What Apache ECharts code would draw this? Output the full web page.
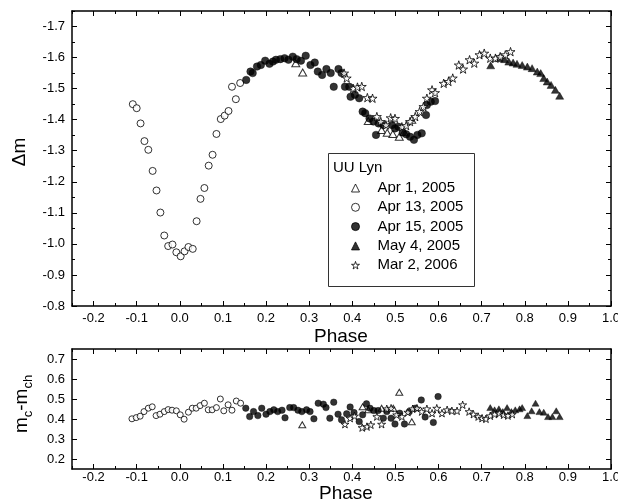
<!DOCTYPE html>
<html>
<head>
<meta charset="utf-8">
<style>
  html, body { margin: 0; padding: 0; background: #fff; }
  #chart { width: 618px; height: 503px; }
</style>
<script src="https://cdn.jsdelivr.net/npm/echarts@6/dist/echarts.min.js"></script>
</head>
<body>
<div id="chart"></div>
<script>
// tick positions
const phaseTicks = [-0.2, -0.1, 0, 0.1, 0.2, 0.3, 0.4, 0.5, 0.6, 0.7, 0.8, 0.9, 1.0];
const phaseMinorTicks = [-0.25, -0.15, -0.05, 0.05, 0.15, 0.25, 0.35, 0.45, 0.55, 0.65, 0.75, 0.85, 0.95];
const dmTicks = [-1.7, -1.6, -1.5, -1.4, -1.3, -1.2, -1.1, -1.0, -0.9, -0.8];
const dmMinorTicks = [-1.75, -1.65, -1.55, -1.45, -1.35, -1.25, -1.15, -1.05, -0.95, -0.85];
const diffTicks = [0.2, 0.3, 0.4, 0.5, 0.6, 0.7];

const seriesNames = ['Apr 1, 2005', 'Apr 13, 2005', 'Apr 15, 2005', 'May 4, 2005', 'Mar 2, 2006'];

// light curve: [phase, delta m]
const apr1Dm = [[0.269, -1.582], [0.285, -1.552], [0.437, -1.396], [0.468, -1.367], [0.481, -1.358],
  [0.494, -1.354], [0.509, -1.345], [0.520, -1.360], [0.538, -1.400]];
const apr13Dm = [[-0.109, -1.450], [-0.100, -1.437], [-0.091, -1.388], [-0.082, -1.331], [-0.073, -1.303],
  [-0.063, -1.235], [-0.054, -1.172], [-0.045, -1.101], [-0.036, -1.027], [-0.027, -0.993],
  [-0.017, -0.998], [-0.008, -0.973], [0.002, -0.960], [0.011, -0.976], [0.020, -0.990],
  [0.030, -0.984], [0.039, -1.073], [0.048, -1.145], [0.057, -1.180], [0.067, -1.252],
  [0.076, -1.287], [0.085, -1.354], [0.095, -1.402], [0.104, -1.413], [0.113, -1.428],
  [0.121, -1.506], [0.130, -1.466], [0.140, -1.518]];
const apr15Dm = [[0.154, -1.528], [0.164, -1.555], [0.169, -1.550], [0.179, -1.571], [0.188, -1.576],
  [0.198, -1.590], [0.208, -1.580], [0.216, -1.587], [0.223, -1.593], [0.233, -1.595],
  [0.243, -1.598], [0.252, -1.593], [0.262, -1.603], [0.271, -1.595], [0.281, -1.590],
  [0.292, -1.606], [0.303, -1.576], [0.313, -1.584], [0.320, -1.555], [0.330, -1.544],
  [0.340, -1.563], [0.350, -1.550], [0.357, -1.506], [0.368, -1.563], [0.375, -1.550],
  [0.383, -1.506], [0.393, -1.506], [0.396, -1.474], [0.406, -1.480], [0.416, -1.469],
  [0.424, -1.426], [0.430, -1.421], [0.440, -1.404], [0.449, -1.394], [0.455, -1.351],
  [0.461, -1.388], [0.472, -1.383], [0.492, -1.383], [0.499, -1.372], [0.507, -1.377],
  [0.517, -1.359], [0.525, -1.353], [0.534, -1.345], [0.543, -1.335], [0.551, -1.351],
  [0.561, -1.356], [0.571, -1.415], [0.573, -1.447], [0.582, -1.458], [0.592, -1.460]];
const may4Dm = [[0.721, -1.575], [0.740, -1.598], [0.753, -1.595], [0.763, -1.587], [0.773, -1.584],
  [0.782, -1.580], [0.794, -1.576], [0.806, -1.571], [0.817, -1.566], [0.829, -1.555],
  [0.837, -1.550], [0.844, -1.534], [0.852, -1.523], [0.861, -1.512], [0.871, -1.496],
  [0.881, -1.477]];
const mar2Dm = [[0.381, -1.550], [0.387, -1.534], [0.402, -1.501], [0.412, -1.505], [0.422, -1.507],
  [0.435, -1.471], [0.447, -1.469], [0.457, -1.410], [0.466, -1.394], [0.478, -1.383],
  [0.489, -1.406], [0.499, -1.404], [0.515, -1.377], [0.525, -1.381], [0.534, -1.394],
  [0.546, -1.410], [0.556, -1.426], [0.565, -1.442], [0.573, -1.469], [0.585, -1.496],
  [0.592, -1.487], [0.612, -1.517], [0.623, -1.523], [0.633, -1.534], [0.647, -1.576],
  [0.657, -1.563], [0.672, -1.593], [0.683, -1.582], [0.695, -1.609], [0.706, -1.614],
  [0.720, -1.598], [0.732, -1.598], [0.743, -1.603], [0.755, -1.609], [0.767, -1.619]];

// comparison stars: [phase, mc - mch]
const apr1Diff = [[0.284, 0.371], [0.424, 0.461], [0.437, 0.446], [0.468, 0.454], [0.495, 0.454],
  [0.509, 0.534], [0.538, 0.386]];
const apr13Diff = [[-0.111, 0.401], [-0.101, 0.407], [-0.092, 0.414], [-0.083, 0.437], [-0.073, 0.454],
  [-0.064, 0.461], [-0.055, 0.417], [-0.046, 0.424], [-0.036, 0.437], [-0.027, 0.447],
  [-0.018, 0.444], [-0.008, 0.441], [0.001, 0.421], [0.010, 0.399], [0.020, 0.434],
  [0.029, 0.454], [0.038, 0.454], [0.047, 0.467], [0.057, 0.479], [0.066, 0.446],
  [0.075, 0.446], [0.085, 0.457], [0.094, 0.500], [0.102, 0.441], [0.112, 0.471],
  [0.121, 0.444], [0.131, 0.490], [0.141, 0.479]];
const apr15Diff = [[0.153, 0.454], [0.162, 0.412], [0.171, 0.437], [0.181, 0.417], [0.190, 0.454],
  [0.200, 0.424], [0.209, 0.437], [0.218, 0.446], [0.227, 0.437], [0.237, 0.444],
  [0.244, 0.406], [0.255, 0.457], [0.264, 0.457], [0.274, 0.444], [0.283, 0.437],
  [0.294, 0.446], [0.302, 0.437], [0.311, 0.401], [0.321, 0.479], [0.333, 0.474],
  [0.339, 0.457], [0.348, 0.404], [0.357, 0.484], [0.367, 0.424], [0.375, 0.396],
  [0.387, 0.426], [0.395, 0.460], [0.404, 0.432], [0.416, 0.387], [0.424, 0.421],
  [0.433, 0.476], [0.441, 0.454], [0.450, 0.442], [0.460, 0.442], [0.472, 0.404],
  [0.480, 0.437], [0.490, 0.404], [0.499, 0.375], [0.510, 0.429], [0.521, 0.375],
  [0.532, 0.436], [0.546, 0.454], [0.560, 0.495], [0.569, 0.410], [0.588, 0.383],
  [0.599, 0.512]];
const may4Diff = [[0.720, 0.457], [0.730, 0.446], [0.740, 0.451], [0.749, 0.437], [0.759, 0.457],
  [0.769, 0.437], [0.778, 0.446], [0.788, 0.451], [0.794, 0.457], [0.806, 0.417],
  [0.816, 0.441], [0.825, 0.479], [0.834, 0.437], [0.844, 0.434], [0.854, 0.412],
  [0.864, 0.412], [0.873, 0.441], [0.881, 0.412]];
const mar2Diff = [[0.383, 0.374], [0.395, 0.404], [0.405, 0.415], [0.423, 0.357], [0.434, 0.362],
  [0.443, 0.371], [0.457, 0.412], [0.468, 0.374], [0.480, 0.451], [0.490, 0.454],
  [0.503, 0.421], [0.515, 0.412], [0.529, 0.434], [0.540, 0.451], [0.550, 0.454],
  [0.561, 0.437], [0.573, 0.451], [0.585, 0.429], [0.596, 0.454], [0.608, 0.429],
  [0.620, 0.446], [0.631, 0.441], [0.643, 0.441], [0.656, 0.471], [0.671, 0.437],
  [0.681, 0.424], [0.692, 0.412], [0.701, 0.404], [0.710, 0.401], [0.720, 0.416],
  [0.730, 0.424], [0.741, 0.429], [0.751, 0.421], [0.761, 0.417], [0.771, 0.424]];

const FONT = '"Liberation Sans", Arial, sans-serif';
const STAR = 'path://M50,0L61,35L98,35L68,57L79,91L50,70L21,91L32,57L2,35L39,35Z';

const openStyle = { color: '#fff', borderColor: '#000', borderWidth: 1 };
const filledStyle = { color: '#000', borderColor: '#000', borderWidth: 0.5 };

// each grid gets a closed frame: labelled axis + mirror axis, with major/minor inward ticks
const frameAxes = (dim, gridIndex, min, max, majors, minors, opts = {}) => {
  const [near, far] = dim === 'x' ? ['bottom', 'top'] : ['left', 'right'];
  const base = { type: 'value', gridIndex, min, max, inverse: !!opts.inverse, splitLine: { show: false } };
  const list = [];
  [near, far].forEach((pos) => {
    list.push({
      ...base,
      position: pos,
      axisLine: { show: true, onZero: false, lineStyle: { color: '#000', width: 1.5 } },
      axisTick: { show: true, inside: true, length: 5, customValues: majors, lineStyle: { color: '#000', width: 1 } },
      axisLabel: pos === near ? {
        show: true,
        customValues: majors,
        formatter: (v) => v.toFixed(1),
        margin: opts.margin,
        fontSize: 13,
        fontFamily: FONT,
        color: '#000',
      } : { show: false },
    });
    if (minors.length) {
      list.push({
        ...base,
        position: pos,
        axisLine: { show: false, onZero: false },
        axisTick: { show: true, inside: true, length: 3, customValues: minors, lineStyle: { color: '#000', width: 1 } },
        axisLabel: { show: false },
      });
    }
  });
  return list;
};

const xAxes = [];
const yAxes = [];
const xIdx = [];
const yIdx = [];

xIdx.push(xAxes.length);
xAxes.push(...frameAxes('x', 0, -0.25, 1.0, phaseTicks, phaseMinorTicks, { margin: 6 }));
yIdx.push(yAxes.length);
yAxes.push(...frameAxes('y', 0, -1.75, -0.8, dmTicks, dmMinorTicks, { margin: 7, inverse: true }));
xIdx.push(xAxes.length);
xAxes.push(...frameAxes('x', 1, -0.25, 1.0, phaseTicks, phaseMinorTicks, { margin: 2 }));
yIdx.push(yAxes.length);
yAxes.push(...frameAxes('y', 1, 0.15, 0.75, diffTicks, [], { margin: 7 }));

const marks = {
  'Apr 1, 2005': { symbol: 'triangle', size: [[8, 7], [7, 6]], style: openStyle },
  'Apr 13, 2005': { symbol: 'circle', size: [7, 6], style: openStyle },
  'Apr 15, 2005': { symbol: 'circle', size: [7.5, 6.5], style: filledStyle },
  'May 4, 2005': { symbol: 'triangle', size: [[8, 7], [7, 6]], style: filledStyle },
  'Mar 2, 2006': { symbol: STAR, size: [9, 8], style: openStyle },
};
const dmSets = [apr1Dm, apr13Dm, apr15Dm, may4Dm, mar2Dm];
const diffSets = [apr1Diff, apr13Diff, apr15Diff, may4Diff, mar2Diff];

const makeSeries = (name, data, gi) => ({
  type: 'scatter',
  name,
  data,
  xAxisIndex: xIdx[gi],
  yAxisIndex: yIdx[gi],
  symbol: marks[name].symbol,
  symbolSize: marks[name].size[gi],
  symbolKeepAspect: true,
  itemStyle: marks[name].style,
  emphasis: { disabled: true },
});

const series = [];
seriesNames.forEach((name, i) => {
  series.push(makeSeries(name, dmSets[i], 0));
  series.push(makeSeries(name, diffSets[i], 1));
});

// legend entries carry their own small icon
const legendData = seriesNames.map((name) => ({
  name,
  icon: marks[name].symbol,
  itemStyle: { ...marks[name].style, borderWidth: 1 },
}));

const titleFont = '19px ' + FONT;

const chart = echarts.init(document.getElementById('chart'), null, { renderer: 'canvas' });
chart.setOption({
  animation: false,
  backgroundColor: '#fff',
  grid: [
    { left: 72, top: 11, width: 539, height: 295, outerBoundsMode: 'none', containLabel: false },
    { left: 72, top: 349, width: 539, height: 120, outerBoundsMode: 'none', containLabel: false },
  ],
  xAxis: xAxes,
  yAxis: yAxes,
  legend: {
    orient: 'vertical',
    left: 346,
    top: 175.5,
    itemWidth: 8,
    itemHeight: 8,
    itemGap: 4.3,
    selectedMode: false,
    data: legendData,
    formatter: (name) => '{sp|}' + name,
    textStyle: {
      fontSize: 15,
      fontFamily: FONT,
      color: '#000',
      rich: { sp: { width: 13 } },
    },
  },
  graphic: [
    {
      type: 'rect',
      shape: { x: 328.5, y: 153.5, width: 146, height: 133 },
      style: { fill: 'none', stroke: '#333', lineWidth: 1 },
    },
    {
      type: 'text',
      x: 333,
      y: 168,
      style: { text: 'UU Lyn', font: '15px ' + FONT, fill: '#000', textVerticalAlign: 'middle' },
    },
    {
      type: 'text',
      x: 341,
      y: 337,
      style: { text: 'Phase', font: titleFont, fill: '#000', textAlign: 'center', textVerticalAlign: 'middle' },
    },
    {
      type: 'text',
      x: 346,
      y: 494,
      style: { text: 'Phase', font: titleFont, fill: '#000', textAlign: 'center', textVerticalAlign: 'middle' },
    },
    {
      type: 'text',
      x: 20,
      y: 152,
      rotation: Math.PI / 2,
      style: { text: 'Δm', font: titleFont, fill: '#000', textAlign: 'center', textVerticalAlign: 'middle' },
    },
    {
      type: 'text',
      x: 22,
      y: 404,
      rotation: Math.PI / 2,
      style: {
        text: '{m|m}{s|c}{m|-m}{s|ch}',
        textAlign: 'center',
        textVerticalAlign: 'middle',
        fill: '#000',
        rich: {
          m: { fontSize: 19, fontFamily: FONT, lineHeight: 26, verticalAlign: 'middle' },
          s: { fontSize: 13, fontFamily: FONT, lineHeight: 13, verticalAlign: 'bottom' },
        },
      },
    },
  ],
  series,
});

window.addEventListener('resize', () => chart.resize());
</script>
</body>
</html>
